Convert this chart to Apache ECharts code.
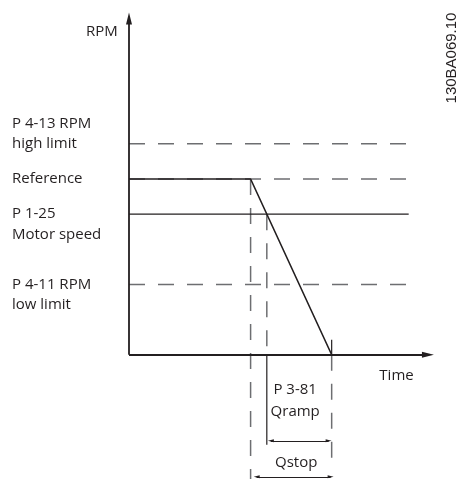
<!DOCTYPE html>
<html>
<head>
<meta charset="utf-8">
<script src="https://cdn.jsdelivr.net/npm/echarts@6/dist/echarts.min.js"></script>
<style>
  html, body { margin: 0; padding: 0; background: #fff; }
  #chart { width: 466px; height: 479px; }
</style>
</head>
<body>
<div id="chart"></div>
<script>
// Speed levels on the RPM axis
const levelNames = ['P 4-13 RPM\nhigh limit', 'Reference', 'P 1-25\nMotor speed', 'P 4-11 RPM\nlow limit'];
const levelRpm = [1800, 1500, 1200, 600];
const levelDashed = [true, true, false, true];
const levelLabelLine = [1, 0, 0, 0];     // which text line sits on the level

// Quick-stop speed trace (time in s, speed in RPM)
const traceTime = [0, 6, 10];
const traceRpm = [1500, 1500, 0];
const speedCrossTime = 6.8;              // ramp passes the motor speed level
const levelEndTime = 13.8;

// Axis extents
const timeMax = 15;
const rpmMax = 2925;
const rpmMin = -1060;
const arrowTime = 14.75;                 // centre of the time-axis arrow head
const arrowRpm = 2870;                   // centre of the RPM-axis arrow head

// Dimension markers below the time axis
const qrampSpan = [7.0, 9.85];
const qrampRpm = -734;
const qstopSpan = [6.3, 9.95];
const qstopRpm = -1041;
const qrampGuideEnd = -768;
const stopGuideEnd = -939;
const stopTickTop = 128;

// Free text placed in data space: [time, rpm, text, align]
const notes = [
  [-0.55, 2756, 'RPM', 'right'],
  [13.2, -179, 'Time', 'center'],
  [8.2, -299, 'P 3-81', 'center'],
  [8.2, -486, 'Qramp', 'center'],
  [8.25, -921, 'Qstop', 'center']
];

const INK = '#231f20';
const GREY = '#6d6e71';
const FONT = '"Open Sans", sans-serif';
const DASH = [16, 13];

const chart = echarts.init(document.getElementById('chart'));

function seg(points, color, dashed, width) {
  return {
    type: 'line',
    data: points,
    symbol: 'none',
    silent: true,
    z: dashed ? 2 : 3,
    lineStyle: { color: color, width: width || 1.5, type: dashed ? DASH : 'solid' }
  };
}

const series = [];

// Horizontal level lines
levelRpm.forEach((r, i) => {
  series.push(seg([[0, r], [levelEndTime, r]], levelDashed[i] ? GREY : INK, levelDashed[i], levelDashed[i] ? 1.5 : 1.2));
});

// Speed trace
series.push(seg(traceTime.map((t, i) => [t, traceRpm[i]]), INK, false, 1.6));

// Vertical guides
series.push(seg([[traceTime[1], traceRpm[1]], [traceTime[1], rpmMin]], GREY, true));
series.push(seg([[speedCrossTime, levelRpm[2]], [speedCrossTime, 0]], GREY, true));
series.push(seg([[speedCrossTime, 0], [speedCrossTime, qrampGuideEnd]], INK, false, 1.2));
series.push(seg([[traceTime[2], stopTickTop], [traceTime[2], 0]], INK, false, 1.2));
series.push(seg([[traceTime[2], 0], [traceTime[2], stopGuideEnd]], GREY, true));

// Axes with arrow heads, and the dimension arrows
const axisStyle = { color: INK, width: 1.8, type: 'solid' };
const dimStyle = { color: INK, width: 1, type: 'solid' };
series.push({
  type: 'line',
  data: [],
  silent: true,
  markLine: {
    silent: true,
    animation: false,
    label: { show: false },
    data: [
      [
        { coord: [0, 0], symbol: 'none', lineStyle: axisStyle },
        { coord: [0, arrowRpm], symbol: 'triangle', symbolSize: [6, 12] }
      ],
      [
        { coord: [0, 0], symbol: 'none', lineStyle: axisStyle },
        { coord: [arrowTime, 0], symbol: 'triangle', symbolSize: [6, 12] }
      ],
      [
        { coord: [qrampSpan[0], qrampRpm], symbol: 'triangle', symbolSize: [3, 6], lineStyle: dimStyle },
        { coord: [qrampSpan[1], qrampRpm], symbol: 'triangle', symbolSize: [3, 6] }
      ],
      [
        { coord: [qstopSpan[0], qstopRpm], symbol: 'triangle', symbolSize: [3, 6], lineStyle: dimStyle },
        { coord: [qstopSpan[1], qstopRpm], symbol: 'triangle', symbolSize: [3, 6] }
      ]
    ]
  }
});

// Level captions on the left
series.push({
  type: 'custom',
  silent: true,
  data: levelRpm.map((r, i) => [0, r, i]),
  renderItem: function (params, api) {
    const i = api.value(2);
    const p = api.coord([0, api.value(1)]);
    const lh = 20.5;
    return {
      type: 'text',
      x: 12,
      y: p[1] - levelLabelLine[i] * lh - lh / 2,
      style: {
        text: levelNames[i],
        fill: INK,
        font: '15px ' + FONT,
        lineHeight: lh,
        align: 'left',
        verticalAlign: 'top'
      }
    };
  }
});

// Free notes
series.push({
  type: 'custom',
  silent: true,
  data: notes.map((n, i) => [n[0], n[1], i]),
  renderItem: function (params, api) {
    const n = notes[api.value(2)];
    const p = api.coord([api.value(0), api.value(1)]);
    return {
      type: 'text',
      x: p[0],
      y: p[1],
      style: {
        text: n[2],
        fill: INK,
        font: '15px ' + FONT,
        align: n[3],
        verticalAlign: 'middle'
      }
    };
  }
});

chart.setOption({
  animation: false,
  grid: { left: 129, right: 33, top: 12, bottom: 0 },
  xAxis: { type: 'value', min: 0, max: timeMax, show: false },
  yAxis: { type: 'value', min: rpmMin, max: rpmMax, show: false },
  graphic: [{
    type: 'text',
    x: 452,
    y: 58,
    rotation: Math.PI / 2,
    style: {
      text: '130BA069.10',
      fill: INK,
      font: '15px "Liberation Sans", sans-serif',
      align: 'center',
      verticalAlign: 'middle'
    }
  }],
  series: series
});
</script>
</body>
</html>
